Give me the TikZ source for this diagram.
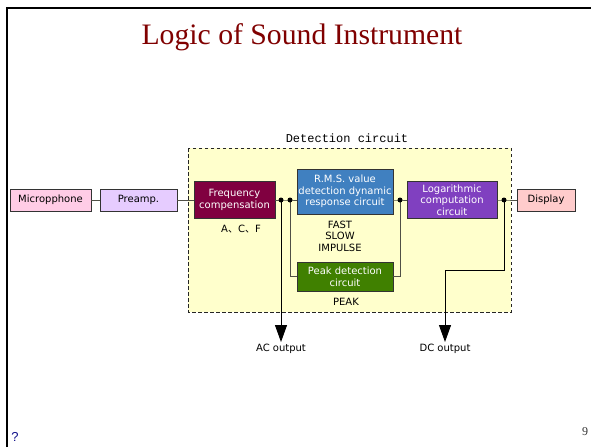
\documentclass[tikz,border=0pt]{standalone}
\usepackage{fontspec}
\setmainfont{Liberation Serif}
\newfontfamily\boxfont{DejaVu Sans}
\newfontfamily\labfont{Liberation Mono}
\newfontfamily\cjk{Noto Sans CJK JP}
\newfontfamily\qfont{Liberation Sans}
\usetikzlibrary{arrows.meta}
\definecolor{titlered}{RGB}{128,0,0}
\definecolor{micpink}{RGB}{255,204,230}
\definecolor{disppink}{RGB}{255,204,204}
\definecolor{prelav}{RGB}{230,204,255}
\definecolor{freqmar}{RGB}{128,0,64}
\definecolor{rmsblue}{RGB}{64,128,192}
\definecolor{peakgreen}{RGB}{64,128,0}
\definecolor{logpurple}{RGB}{128,64,192}
\definecolor{detyellow}{RGB}{255,255,204}
\definecolor{wire}{RGB}{80,80,70}
\definecolor{qblue}{RGB}{20,20,140}
\tikzset{
  blk/.style={draw=black!80, line width=0.9pt, inner sep=0pt, align=center,
    font=\boxfont\fontsize{10}{11.6}\selectfont},
  lightblk/.style={blk, text=black},
  darkblk/.style={blk, text=white},
  wireline/.style={draw=wire, line width=1pt},
  junction/.style={circle, fill=black, inner sep=0pt, minimum size=5pt},
  note/.style={inner sep=0pt, align=center, font=\boxfont\fontsize{10}{11.6}\selectfont},
  outarrow/.style={draw=black, line width=1pt, -{Triangle[length=17pt,width=12pt]}}
}
\begin{document}
\begin{tikzpicture}[x=1pt,y=-1pt]
\useasboundingbox (0,0) rectangle (591,447);
\fill[white] (0,0) rectangle (591,447);

% slide frame
\draw[black, line width=2.6pt] (7,447) -- (7,8) -- (591,8);

% title
\node[text=titlered, font=\fontsize{29.7}{32}\selectfont] (title) at (302,37) {Logic of Sound Instrument};

% detection circuit region
\draw[fill=detyellow, draw=black!85, line width=0.9pt, dash pattern=on 3.5pt off 2.5pt]
  (188,148) rectangle (511,312);
\node[font=\labfont\fontsize{12}{13}\selectfont, inner sep=0pt] (detlabel) at (347,138) {Detection circuit};

% blocks
\node[lightblk, fill=micpink, minimum width=81, minimum height=22] (mic) at (50.5,200) {Micropphone};
\node[lightblk, fill=prelav, minimum width=77, minimum height=22] (pre) at (138.5,200) {Preamp.};
\node[darkblk, fill=freqmar, minimum width=81, minimum height=37] (freq) at (234.5,200) {Frequency\\compensation};
\node[darkblk, fill=rmsblue, minimum width=96, minimum height=45] (rms) at (345,191.5) {R.M.S. value\\detection dynamic\\response circuit};
\node[darkblk, fill=peakgreen, minimum width=96, minimum height=29] (peak) at (345,276.5) {Peak detection\\circuit};
\node[darkblk, fill=logpurple, minimum width=90, minimum height=37] (log) at (452,200) {Logarithmic\\computation\\circuit};
\node[lightblk, fill=disppink, minimum width=58, minimum height=22] (disp) at (546,200) {Display};

% notes
\node[note] (weight) at (241,229) {A{\cjk 、}C{\cjk 、}F};
\node[note] (resp) at (340,236) {FAST\\SLOW\\IMPULSE};
\node[note] (peaknote) at (346,302) {PEAK};

% junctions
\coordinate (d1) at (281,200);
\coordinate (d2) at (290,200);
\coordinate (d3) at (400,200);
\coordinate (d4) at (504,200);
\coordinate (bend) at (445,270);

% outputs
\node[note, anchor=north, inner sep=2pt] (acout) at (281,342) {AC output};
\node[note, anchor=north, inner sep=2pt] (dcout) at (445,342) {DC output};

% signal wiring
\draw[wireline] (mic.east) -- (pre.west);
\draw[wireline] (pre.east) -- (freq.west);
\draw[wireline] (freq.east) -- (d1) -- (d2) -- (rms.west |- d2);
\draw[wireline] (d2) |- (peak.west);
\draw[wireline] (peak.east) -| (d3);
\draw[wireline] (rms.east |- d3) -- (d3) -- (log.west);
\draw[wireline] (log.east) -- (d4) -- (disp.west);

% output taps
\draw[outarrow] (d1) -- (acout.north);
\draw[outarrow] (d4) |- (bend) -- (dcout.north);

\node[junction] at (d1) {};
\node[junction] at (d2) {};
\node[junction] at (d3) {};
\node[junction] at (d4) {};

% footer
\node[text=qblue, font=\qfont\fontsize{13}{14}\selectfont, inner sep=0pt] (qmark) at (15,437) {?};
\node[text=black!80, font=\fontsize{12}{13}\selectfont, inner sep=0pt] (pageno) at (585,432) {9};
\end{tikzpicture}
\end{document}
